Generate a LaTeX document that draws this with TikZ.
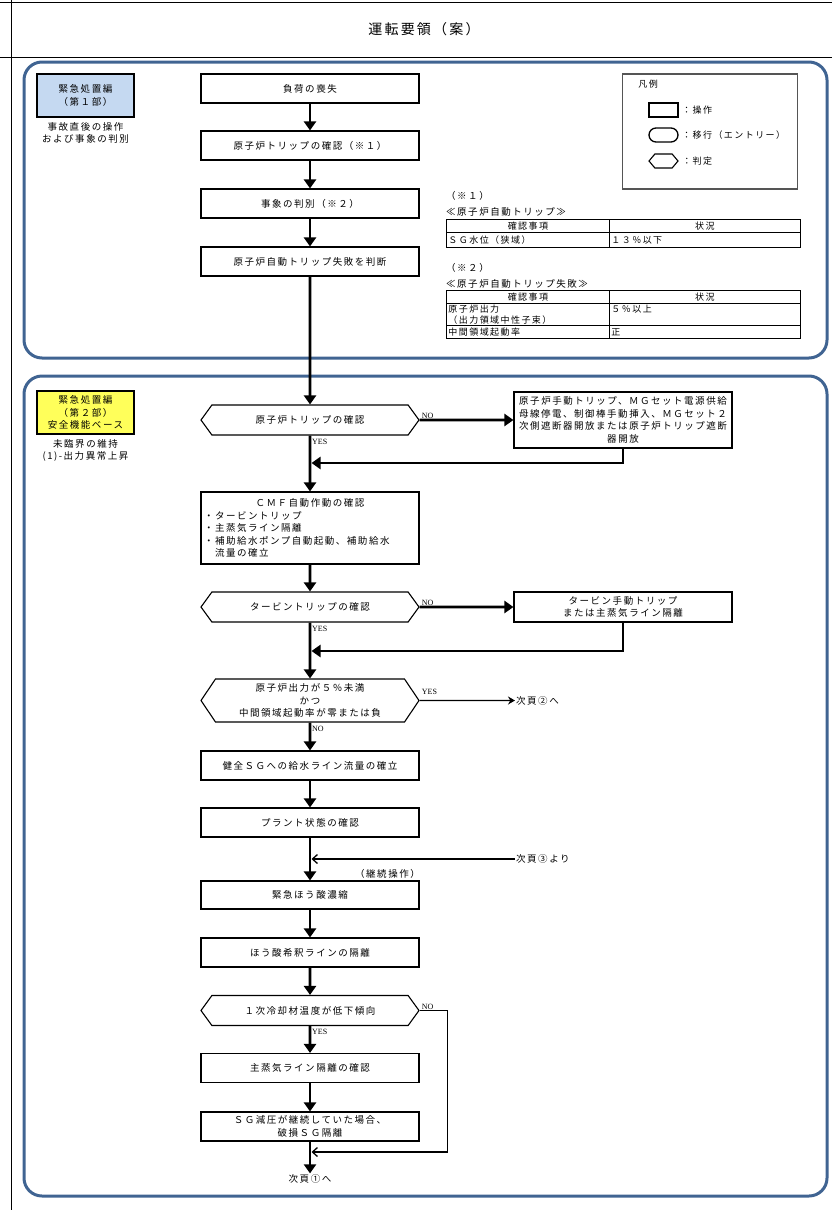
\documentclass[tikz,border=0pt]{standalone}
\usepackage{fontspec}
\setmainfont{Noto Sans CJK JP}[LetterSpace=16]
\newfontfamily\latin{Liberation Serif}
\usetikzlibrary{arrows.meta,shapes.symbols,positioning}

\definecolor{panelblue}{RGB}{64,100,146}
\definecolor{partone}{RGB}{197,217,241}
\definecolor{parttwo}{RGB}{255,255,90}
\definecolor{legendgray}{RGB}{85,85,85}

\begin{document}
\begin{tikzpicture}[x=1pt,y=-1pt,
    font=\fontsize{9.5}{12.5}\selectfont,
    stepbox/.style = {draw, line width=1.1pt,
        minimum width=218pt, minimum height=29pt,
        align=center, inner sep=2pt},
    check/.style = {draw, line width=1.1pt, signal,
        signal to=west and east, signal pointer angle=108,
        minimum width=218pt, minimum height=30pt,
        align=center, inner sep=1pt},
    partbox/.style = {draw, line width=1.1pt,
        minimum width=97pt, minimum height=43pt,
        align=center, inner sep=1pt},
    panel/.style = {draw=panelblue, line width=3pt, rounded corners=18pt},
    flow/.style = {line width=2.6pt, -{Triangle[length=9pt,width=12pt]}},
    nextflow/.style = {line width=1.3pt, -{Stealth[length=7pt,width=8pt]}},
    thinflow/.style = {line width=1.3pt, -{Straight Barb[length=5pt,width=9pt]}},
    answer/.style = {font=\latin\fontsize{8}{9}\selectfont, inner sep=1pt},
    small/.style = {font=\fontsize{9}{11}\selectfont},
    cell/.style = {draw, line width=0.9pt, anchor=north west, align=left,
        inner xsep=2pt, inner ysep=0.5pt, small}]

\useasboundingbox (0,0) rectangle (832,1210);

% Page frame and title
\draw[line width=0.8pt] (0,2) -- (832,2) (0,57) -- (832,57) (11,0) -- (11,1210);
\node[font=\fontsize{14}{16}\selectfont] (title) at (424,29) {運転要領（案）};

% Panels
\draw[panel] (24,62) rectangle (827,358);
\draw[panel] (24,376) rectangle (827,1196);

% Part labels
\node[partbox, fill=partone] (part1) at (85.5,95.5) {緊急処置編\\（第１部）};
\node[below=1pt of part1, align=center] (part1note) {事故直後の操作\\および事象の判別};
\node[partbox, fill=parttwo] (part2) at (85.5,412.5) {緊急処置編\\（第２部）\\安全機能ベース};
\node[below=1pt of part2, align=center] (part2note) {未臨界の維持\\(1)-出力異常上昇};

% Legend
\node[draw=legendgray, line width=1.3pt, minimum width=175pt, minimum height=115pt] (legend) at (710,131.5) {};
\node[small, below right=3pt and 13pt of legend.north west] (legendtitle) {凡例};
\node[draw, line width=1.3pt, minimum width=29pt, minimum height=14pt] (symstep) at (663.5,110) {};
\node[small, right=0pt of symstep] (symsteptext) {：操作};
\node[draw, line width=1.3pt, rounded corners=7pt, minimum width=29pt, minimum height=14pt] (symentry) at (663.5,135) {};
\node[small, right=0pt of symentry] (symentrytext) {：移行（エントリー）};
\node[check, minimum width=29pt, minimum height=14pt, signal pointer angle=100] (symcheck) at (663.5,161) {};
\node[small, right=0pt of symcheck] (symchecktext) {：判定};

% Table (*1)
\node[anchor=west, inner sep=0pt] (note1) at (446,196) {（※１）};
\node[anchor=west, inner sep=0pt] (note1title) at (446,212) {≪原子炉自動トリップ≫};
\node[cell, text width=159pt, align=center, minimum height=13pt] (t1ha) at (446,219) {確認事項};
\node[cell, text width=187pt, align=center, minimum height=13pt] (t1hb) at (609,219) {状況};
\node[cell, text width=159pt, minimum height=15pt] (t1a) at (446,232) {ＳＧ水位（狭域）};
\node[cell, text width=187pt, minimum height=15pt] (t1b) at (609,232) {１３％以下};

% Table (*2)
\node[anchor=west, inner sep=0pt] (note2) at (446,268) {（※２）};
\node[anchor=west, inner sep=0pt] (note2title) at (446,284) {≪原子炉自動トリップ失敗≫};
\node[cell, text width=159pt, align=center, minimum height=13pt] (t2ha) at (446,290) {確認事項};
\node[cell, text width=187pt, align=center, minimum height=13pt] (t2hb) at (609,290) {状況};
\node[cell, text width=159pt, minimum height=22pt] (t2a) at (446,303) {原子炉出力\\（出力領域中性子束）};
\node[cell, text width=187pt, minimum height=22pt] (t2b) at (609,303) {５％以上\\\phantom{正}};
\node[cell, text width=159pt, minimum height=13pt] (t2c) at (446,325) {中間領域起動率};
\node[cell, text width=187pt, minimum height=13pt] (t2d) at (609,325) {正};

% Immediate actions
\node[stepbox] (loss) at (310,88.5) {負荷の喪失};
\node[stepbox] (trip) at (310,145.5) {原子炉トリップの確認（※１）};
\node[stepbox] (judge) at (310,203.5) {事象の判別（※２）};
\node[stepbox] (atws) at (310,261.5) {原子炉自動トリップ失敗を判断};

% Safety function based actions
\node[check] (chktrip) at (310,420) {原子炉トリップの確認};
\node[stepbox, minimum height=56pt, text width=214pt, inner xsep=2pt] (manual) at (623,420)
    {原子炉手動トリップ、ＭＧセット電源供給\\母線停電、制御棒手動挿入、ＭＧセット２\\次側遮断器開放または原子炉トリップ遮断\\器開放};
\node[stepbox, minimum height=72pt, text width=212pt, align=left] (cmf) at (310,528)
    {\makebox[212pt]{ＣＭＦ自動作動の確認}\\・タービントリップ\\・主蒸気ライン隔離\\・補助給水ポンプ自動起動、補助給水\\　流量の確立};
\node[check] (chkturb) at (310,607) {タービントリップの確認};
\node[stepbox, minimum height=30pt] (turbtrip) at (623,607) {タービン手動トリップ\\または主蒸気ライン隔離};
\node[check, minimum height=43pt, signal pointer angle=112] (chkpower) at (310,700.5)
    {原子炉出力が５％未満\\かつ\\中間領域起動率が零または負};
\node[stepbox] (feed) at (310,765.5) {健全ＳＧへの給水ライン流量の確立};
\node[stepbox] (plant) at (310,822.5) {プラント状態の確認};
\node[stepbox, minimum height=28pt] (borate) at (310,895) {緊急ほう酸濃縮};
\node[stepbox] (dilution) at (310,952.5) {ほう酸希釈ラインの隔離};
\node[check] (chktemp) at (310,1010.5) {１次冷却材温度が低下傾向};
\node[stepbox] (msiso) at (310,1068) {主蒸気ライン隔離の確認};
\node[stepbox] (sgiso) at (310,1126.5) {ＳＧ減圧が継続していた場合、\\破損ＳＧ隔離};

% Page links
\node[inner sep=1pt] (next1) at (310,1179) {次頁①へ};
\node[anchor=west, inner sep=1pt] (next2) at (515,700.5) {次頁②へ};
\node[anchor=west, inner sep=1pt] (from3) at (515,859) {次頁③より};
\node[anchor=south east, inner sep=1pt] (keepon) at (421,880) {（継続操作）};

\coordinate (join1) at (311.5,463);
\coordinate (join2) at (311.5,651);
\coordinate (join3) at (311.5,859);
\coordinate (join4) at (311.5,1152);

% Main line
\foreach \a/\b in {loss/trip, trip/judge, judge/atws, atws/chktrip,
    chktrip/cmf, cmf/chkturb, chkturb/chkpower, chkpower/feed,
    feed/plant, plant/borate, borate/dilution, dilution/chktemp,
    chktemp/msiso, msiso/sgiso, sgiso/next1}
    \draw[flow] (\a) -- (\b);

% Branches
\draw[flow] (chktrip) -- (manual);
\draw[flow] (manual.south) |- (join1);
\draw[flow] (chkturb) -- (turbtrip);
\draw[flow] (turbtrip.south) |- (join2);
\draw[nextflow] (chkpower) -- (next2);
\draw[thinflow] (from3) -- (join3);
\draw[thinflow] (chktemp.east) -- ++(28,0) |- (join4);

% Answers
\node[answer, above right=0pt and 1pt of chktrip.east] (no1) {NO};
\node[answer, below right=2pt and 1pt of chktrip.south] (yes1) {YES};
\node[answer, above right=0pt and 1pt of chkturb.east] (no2) {NO};
\node[answer, below right=2pt and 1pt of chkturb.south] (yes2) {YES};
\node[answer, above right=5pt and 1pt of chkpower.east] (yes3) {YES};
\node[answer, below right=2pt and 1pt of chkpower.south] (no3) {NO};
\node[answer, above right=0pt and 1pt of chktemp.east] (no4) {NO};
\node[answer, below right=2pt and 1pt of chktemp.south] (yes4) {YES};
\end{tikzpicture}
\end{document}
